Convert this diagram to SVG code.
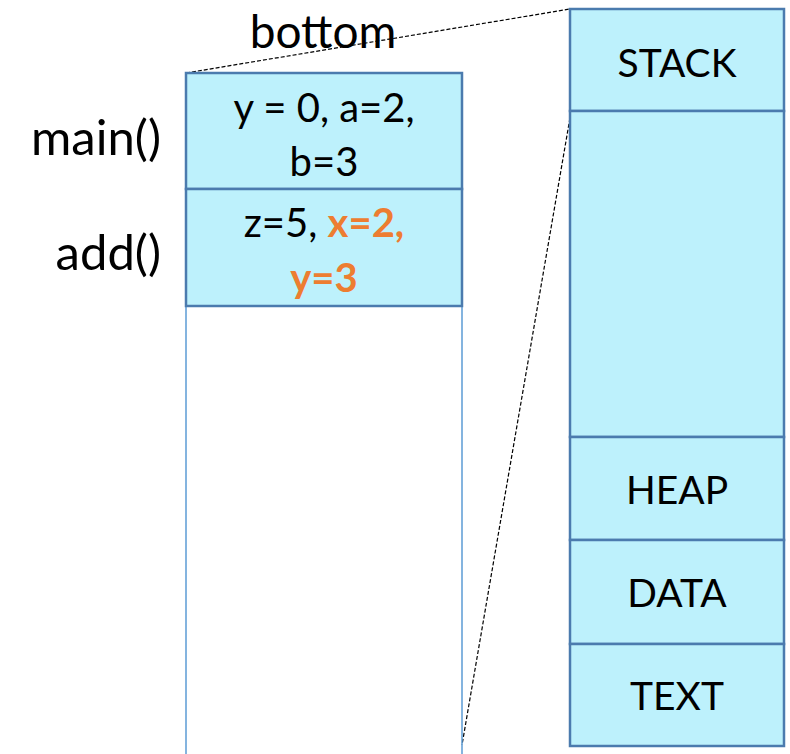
<svg xmlns="http://www.w3.org/2000/svg" width="790" height="754" viewBox="0 0 790 754">
<style>
.box{fill:#BDF1FC;stroke:#4B7BAE;stroke-width:2.5}
.t{font-family:Lato,"Open Sans","Liberation Sans",sans-serif;font-size:40px;fill:#000;text-anchor:middle}
.r{font-size:39px}
.lbl{font-size:49px;text-anchor:end}
.o{fill:#ED7D31;font-weight:bold}
.dash{stroke:#000;stroke-width:1.2;stroke-dasharray:4,2;fill:none}
.thin{stroke:#5B9BD5;stroke-width:1.5;fill:none}
</style>
<rect width="790" height="754" fill="#fff"/>
<g id="connectors">
<line class="dash" x1="186" y1="73" x2="570" y2="9"/>
<line class="dash" x1="571" y1="112" x2="462" y2="745"/>
</g>
<g id="stack-column">
<line class="thin" x1="186" y1="306" x2="186" y2="754"/>
<line class="thin" x1="462" y1="306" x2="462" y2="754"/>
</g>
<g id="bottom-label"><text class="t" x="323" y="48" style="font-size:46px">bottom</text></g>
<g id="main">
<text class="t lbl" x="161" y="155">main()</text>
<rect class="box" x="186" y="73" width="276" height="116"/>
<text class="t" x="324" y="122">y = 0, a=2,</text>
<text class="t" x="324" y="176">b=3</text>
</g>
<g id="add">
<text class="t lbl" x="161" y="270">add()</text>
<rect class="box" x="186" y="189" width="276" height="117"/>
<text class="t" x="324" y="237">z=5, <tspan class="o">x=2,</tspan></text>
<text class="t o" x="324" y="292">y=3</text>
</g>
<g id="stack"><rect class="box" x="570" y="9" width="214" height="102"/><text class="t r" x="677" y="77">STACK</text></g>
<g id="free"><rect class="box" x="570" y="111" width="214" height="326"/></g>
<g id="heap"><rect class="box" x="570" y="437" width="214" height="103"/><text class="t r" x="677" y="504">HEAP</text></g>
<g id="data"><rect class="box" x="570" y="540" width="214" height="104"/><text class="t r" x="677" y="607">DATA</text></g>
<g id="text"><rect class="box" x="570" y="644" width="214" height="102"/><text class="t r" x="677" y="710">TEXT</text></g>
</svg>
